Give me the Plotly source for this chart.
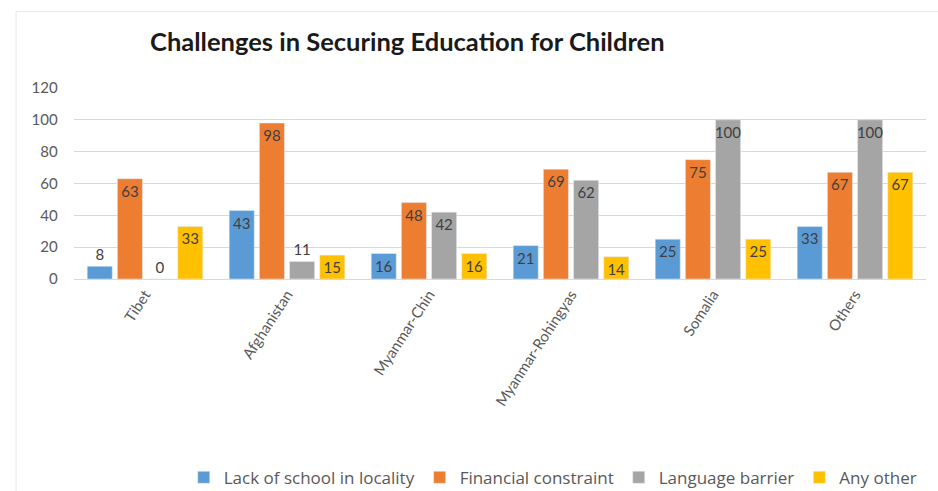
import plotly.graph_objects as go

categories = ["Tibet", "Afghanistan", "Myanmar-Chin", "Myanmar-Rohingyas", "Somalia", "Others"]
lack_school = [8, 43, 16, 21, 25, 33]
financial = [63, 98, 48, 69, 75, 67]
language = [0, 11, 42, 62, 100, 100]
any_other = [33, 15, 16, 14, 25, 67]

series = [
    ("Lack of school in locality", lack_school, "#5B9BD5"),
    ("Financial constraint", financial, "#ED7D31"),
    ("Language barrier", language, "#A5A5A5"),
    ("Any other", any_other, "#FFC000"),
]

fig = go.Figure()
for name, vals, color in series:
    fig.add_trace(go.Bar(
        name=name, x=categories, y=vals, marker_color=color,
        text=[str(v) for v in vals],
        textposition=["outside" if v < 14 else "inside" for v in vals],
        insidetextanchor="end", textangle=0,
        constraintext="none", cliponaxis=False,
        textfont=dict(family="Lato, sans-serif", size=15, color="#404040"),
    ))

fig.update_layout(
    width=938, height=491,
    margin=dict(l=74, r=12, t=88, b=212),
    paper_bgcolor="white", plot_bgcolor="white",
    barmode="group", bargap=0.15, bargroupgap=0.17,
    title=dict(text="<b>Challenges in Securing Education for Children</b>",
               x=0.16, xanchor="left", y=0.915, yanchor="middle",
               font=dict(family="Lato, sans-serif", size=25.5, color="#1a1a1a")),
    font=dict(family="Lato, sans-serif", color="#595959"),
    legend=dict(orientation="h", x=0.995, xanchor="right", yref="container",
                y=0.027, yanchor="middle",
                font=dict(family="Open Sans, sans-serif", size=17, color="#595959"),
                traceorder="normal", itemwidth=30),
    showlegend=True,
)
fig.update_yaxes(range=[0, 120], dtick=20, gridcolor="#D9D9D9", zeroline=False,
                 showline=False, tickfont=dict(size=15, color="#595959"), ticklen=0,
                 ticks="", ticksuffix="    ", automargin=False)
fig.update_xaxes(tickangle=-57, tickfont=dict(size=15, color="#595959"), showline=True,
                 linecolor="#D9D9D9", ticks="", automargin=False)
fig.add_shape(type="rect", xref="paper", yref="paper", x0=-0.068, x1=1.02, y0=-1.17, y1=1.4,
              line=dict(color="#E6E6E6", width=1), layer="below")
fig.write_html("out.html")
